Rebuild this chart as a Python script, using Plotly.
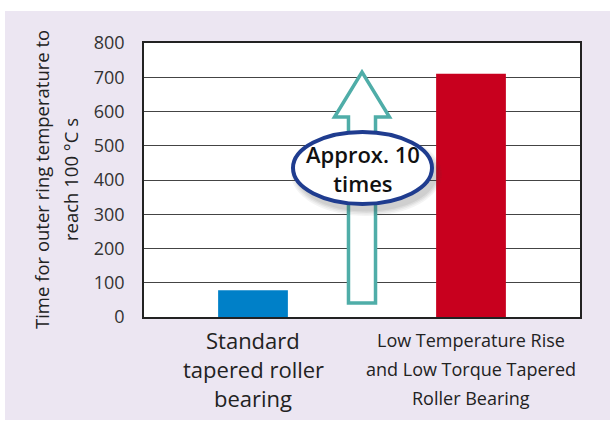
import plotly.graph_objects as go

categories = ["std", "low"]
category_lines = [["Standard", "tapered roller", "bearing"],
                  ["Low Temperature Rise", "and Low Torque Tapered", "Roller Bearing"]]
times_s = [78, 710]
bar_colors = ["#0080C8", "#C8001E"]
y_ticks = [0, 100, 200, 300, 400, 500, 600, 700, 800]
y_title_lines = ["Time for outer ring temperature to", "reach 100 °C s"]
callout_text = "Approx. 10<br>times"

W, H = 611, 421
L, R, T, B = 144, 580, 43, 317
PW, PH = R - L, B - T


def px_x(px):
    return (px - L) / PW


def px_y(py):
    return (B - py) / PH


fig = go.Figure(go.Bar(x=categories, y=times_s, marker=dict(color=bar_colors, line=dict(width=0)),
                       width=0.32, hoverinfo="skip"))

font = "Open Sans"

fig.update_layout(
    width=W, height=H,
    margin=dict(l=L, r=W - R, t=T, b=H - B),
    paper_bgcolor="white", plot_bgcolor="white",
    showlegend=False,
    font=dict(family=font, color="#222"),
    xaxis=dict(showticklabels=False, showgrid=False, zeroline=False, showline=True,
               linecolor="#222", linewidth=1.5, mirror=True, ticks=""),
    yaxis=dict(range=[0, 800], tickvals=y_ticks, showgrid=True, gridcolor="#444", gridwidth=1,
               zeroline=False, showline=True, linecolor="#222", linewidth=1.5, mirror=True,
               ticks="", ticklabelstandoff=14, tickfont=dict(size=18, color="#333", family=font)),
)

shapes = []
# lavender panel behind the chart
shapes.append(dict(type="rect", xref="paper", yref="paper", layer="below",
                   x0=px_x(5), x1=px_x(610), y0=px_y(420), y1=px_y(11),
                   fillcolor="#ECE6F2", line=dict(width=0)))
# white plot area on top of the panel
shapes.append(dict(type="rect", xref="paper", yref="paper", layer="below",
                   x0=0, x1=1, y0=0, y1=1, fillcolor="white", line=dict(width=0)))

# hollow arrow
cx, sw, hw = 0.5, 0.031, 0.063
y_bot, y_head, y_tip = 41, 584, 715
path = (f"M {cx - sw},{y_bot} L {cx - sw},{y_head} L {cx - hw},{y_head} L {cx},{y_tip} "
        f"L {cx + hw},{y_head} L {cx + sw},{y_head} L {cx + sw},{y_bot} Z")
shapes.append(dict(type="path", xref="paper", yref="y", path=path,
                   fillcolor="white", line=dict(color="#4FADA8", width=3.5)))

# callout ellipse with soft shadow
ex0, ex1 = px_x(293), px_x(432)
ey0, ey1 = 330, 540
for i, op in enumerate([0.06, 0.06, 0.07, 0.08]):
    g = 12 - i * 3
    shapes.append(dict(type="circle", xref="paper", yref="y",
                       x0=ex0 + (4 - g / 2) / PW, x1=ex1 + (4 + g / 2) / PW,
                       y0=ey0 - (6 + g / 2) / 0.3425, y1=ey1 - (6 - g / 2) / 0.3425,
                       fillcolor=f"rgba(60,60,60,{op})", line=dict(width=0)))
shapes.append(dict(type="circle", xref="paper", yref="y", x0=ex0, x1=ex1, y0=ey0, y1=ey1,
                   fillcolor="white", line=dict(color="#1F3C8F", width=4)))
fig.update_layout(shapes=shapes)

annotations = [
    dict(text=callout_text, xref="paper", yref="y", x=(ex0 + ex1) / 2,
         y=(ey0 + ey1) / 2, showarrow=False,
         font=dict(size=22, color="#111", family=font, weight=600), align="center"),
]
# rotated y-axis title, one annotation per line
for xpx, line in zip([41, 70], y_title_lines):
    annotations.append(dict(text=line, xref="paper", yref="paper", x=px_x(xpx), y=px_y(180),
                            xanchor="center", yanchor="middle", textangle=-90, showarrow=False,
                            font=dict(size=18.5, color="#222", family=font)))
# category labels, one annotation per line
sizes = [22, 18]
for cat, lines, size in zip(categories, category_lines, sizes):
    for ypx, line in zip([340, 369, 398], lines):
        annotations.append(dict(text=line, xref="x", yref="paper", x=cat, y=px_y(ypx),
                                xanchor="center", yanchor="middle", showarrow=False,
                                font=dict(size=size, color="#222", family=font)))
fig.update_layout(annotations=annotations)

fig.write_html("out.html")
